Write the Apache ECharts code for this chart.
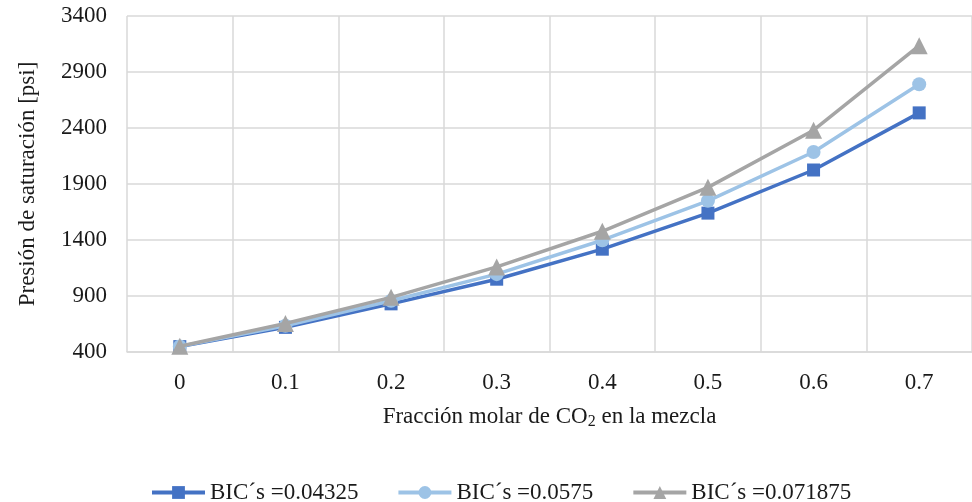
<!DOCTYPE html>
<html>
<head>
<meta charset="utf-8">
<script src="https://cdn.jsdelivr.net/npm/echarts@6/dist/echarts.min.js"></script>
<style>
html,body{margin:0;padding:0;background:#fff;}
#chart{width:972px;height:502px;}
</style>
</head>
<body>
<div id="chart"></div>
<script>
const categories = ['0', '0.1', '0.2', '0.3', '0.4', '0.5', '0.6', '0.7'];
const seriesNames = ['BIC´s =0.04325', 'BIC´s =0.0575', 'BIC´s =0.071875'];
const bic04325 = [448, 620, 830, 1050, 1318, 1640, 2025, 2535];
const bic0575 = [450, 635, 858, 1095, 1398, 1750, 2186, 2790];
const bic071875 = [452, 655, 888, 1160, 1478, 1870, 2380, 3135];
const yTicks = { min: 400, max: 3400, interval: 500 };

const font = '"Liberation Serif", "Times New Roman", serif';
const txt = '#1a1a1a';
const colors = ['#4472C4', '#9DC3E6', '#A5A5A5'];
const symbols = ['rect', 'circle', 'triangle'];
const sizes = [13, 14, 17];
const dataSets = [bic04325, bic0575, bic071875];

const chart = echarts.init(document.getElementById('chart'));
chart.setOption({
  animation: false,
  backgroundColor: '#fff',
  grid: { left: 127, top: 16, width: 853.5, height: 336, containLabel: false },
  xAxis: {
    type: 'category',
    data: categories,
    boundaryGap: true,
    axisLine: { show: true, lineStyle: { color: '#d9d9d9', width: 1.5 } },
    axisTick: { show: false },
    splitLine: { show: true, lineStyle: { color: '#d9d9d9', width: 1.5 } },
    axisLabel: { color: txt, fontFamily: font, fontSize: 23, margin: 19 },
    name: '{a|Fracción molar de CO}{s|2}{a| en la mezcla}',
    nameLocation: 'middle',
    nameGap: 52,
    nameTextStyle: {
      rich: {
        a: { color: txt, fontFamily: font, fontSize: 23 },
        s: { color: txt, fontFamily: font, fontSize: 16, padding: [10, 0, 0, 0] }
      }
    }
  },
  yAxis: {
    type: 'value',
    min: yTicks.min,
    max: yTicks.max,
    interval: yTicks.interval,
    axisLine: { show: false },
    axisTick: { show: false },
    splitLine: { show: true, lineStyle: { color: '#d9d9d9', width: 1.5 } },
    axisLabel: { color: txt, fontFamily: font, fontSize: 23, margin: 20, formatter: v => String(v) },
    name: 'Presión de saturación [psi]',
    nameLocation: 'middle',
    nameGap: 88,
    nameTextStyle: { color: txt, fontFamily: font, fontSize: 23 }
  },
  legend: {
    top: 476,
    left: 145,
    itemWidth: 53,
    itemHeight: 16,
    itemGap: 38,
    lineStyle: { width: 4 },
    textStyle: { color: txt, fontFamily: font, fontSize: 23 },
    data: seriesNames
  },
  series: dataSets.map((d, i) => ({
    name: seriesNames[i],
    type: 'line',
    data: d,
    symbol: symbols[i],
    symbolSize: sizes[i],
    showAllSymbol: true,
    lineStyle: { color: colors[i], width: 3.5 },
    itemStyle: { color: colors[i], borderWidth: 0 },
    z: 2 + i
  }))
});
</script>
</body>
</html>
